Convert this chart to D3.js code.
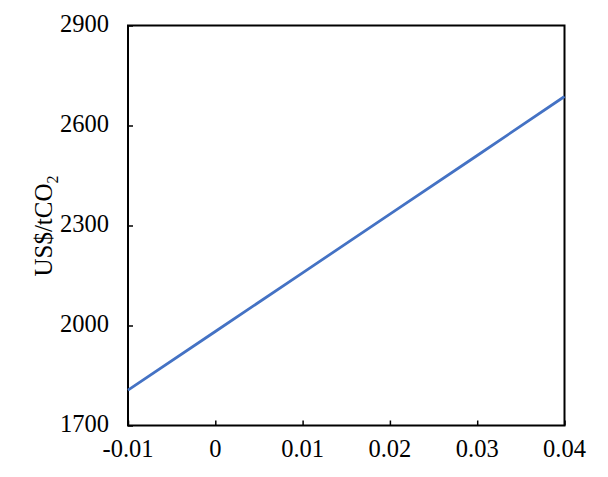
<!DOCTYPE html>
<html>
<head>
<meta charset="utf-8">
<script src="https://cdn.jsdelivr.net/npm/d3@7"></script>
<style>
  body { margin: 0; background: #fff; }
  text { font-family: "Liberation Serif", "Times New Roman", serif; }
</style>
</head>
<body>
<div id="main"></div>
<script>
var xValues = [-0.01, 0, 0.01, 0.02, 0.03, 0.04];
var yValues = [1806, 1982, 2158, 2334, 2510, 2687];
var xTicks = [-0.01, 0, 0.01, 0.02, 0.03, 0.04];
var yTicks = [1700, 2000, 2300, 2600, 2900];

var width = 608, height = 477;
var plotL = 128, plotR = 564.5, plotT = 25.5, plotB = 425.5;

var svg = d3.select("#main").append("svg")
    .attr("width", width)
    .attr("height", height);

var x = d3.scaleLinear().domain([-0.01, 0.04]).range([plotL, plotR]);
var y = d3.scaleLinear().domain([1700, 2900]).range([plotB, plotT]);

// frame
svg.append("rect")
    .attr("x", plotL).attr("y", plotT)
    .attr("width", plotR - plotL).attr("height", plotB - plotT)
    .attr("fill", "none").attr("stroke", "#000").attr("stroke-width", 2);

var fmtX = function(d){ return d === 0 ? "0" : d3.format(".2f")(d).replace("−", "-"); };

var xAxis = svg.append("g")
    .attr("transform", "translate(0," + plotB + ")")
    .call(d3.axisTop(x).tickValues(xTicks).tickSize(5).tickSizeOuter(0).tickFormat(""));
xAxis.select(".domain").remove();
xAxis.selectAll("line").attr("stroke-width", 1.5);

svg.selectAll(".xlab")
    .data(xTicks)
    .enter().append("text")
    .attr("class", "xlab")
    .attr("x", function(d){ return x(d); })
    .attr("y", plotB + 31)
    .attr("text-anchor", "middle")
    .style("font-size", "24.5px")
    .text(fmtX);

var yAxis = svg.append("g")
    .attr("transform", "translate(" + plotL + ",0)")
    .call(d3.axisRight(y).tickValues(yTicks).tickSize(5).tickSizeOuter(0).tickFormat(""));
yAxis.select(".domain").remove();
yAxis.selectAll("line").attr("stroke-width", 1.5);

svg.selectAll(".ylab")
    .data(yTicks)
    .enter().append("text")
    .attr("class", "ylab")
    .attr("x", plotL - 19)
    .attr("y", function(d){ return y(d) + 6; })
    .attr("text-anchor", "end")
    .style("font-size", "24.5px")
    .text(function(d){ return d; });

var line = d3.line()
    .x(function(d, i){ return x(xValues[i]); })
    .y(function(d){ return y(d); });

svg.append("path")
    .datum(yValues)
    .attr("d", line)
    .attr("fill", "none")
    .attr("stroke", "#4472C4")
    .attr("stroke-width", 2.75);

var title = svg.append("text")
    .attr("transform", "translate(52,226) rotate(-90)")
    .attr("text-anchor", "middle")
    .style("font-size", "25px");
title.append("tspan").text("US$/tCO");
title.append("tspan").attr("dy", 6).style("font-size", "16px").text("2");
</script>
</body>
</html>
